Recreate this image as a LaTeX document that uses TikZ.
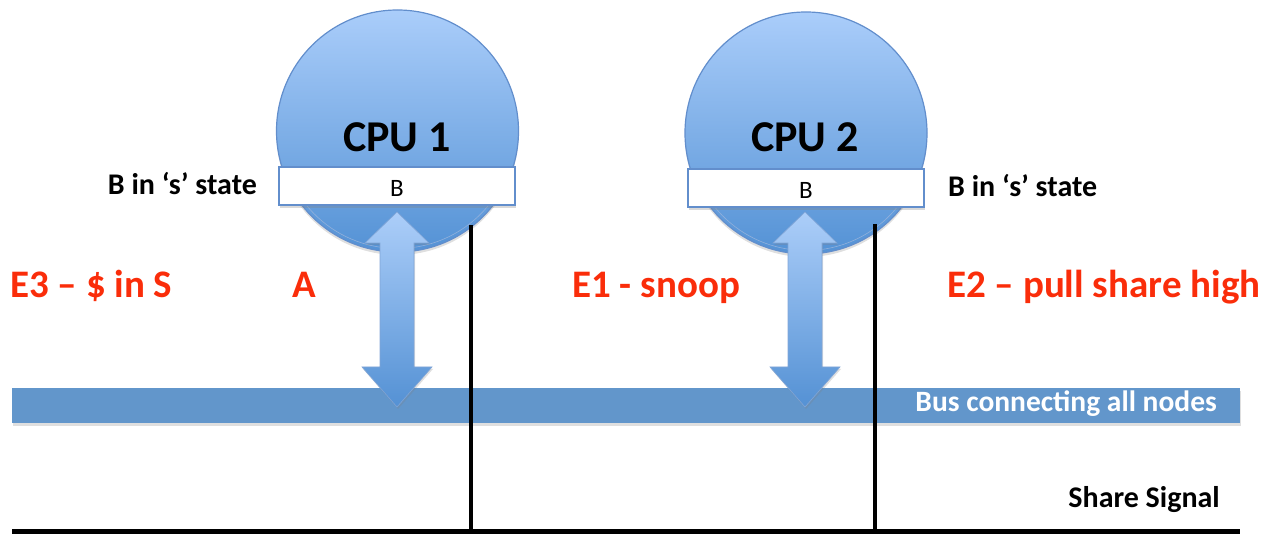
\documentclass[tikz,border=0pt]{standalone}
\usepackage{fontspec}
\setmainfont{Carlito}
\usetikzlibrary{shadows}
\definecolor{cpuTop}{RGB}{170,205,250}
\definecolor{cpuBot}{RGB}{84,146,213}
\definecolor{cpuEdge}{RGB}{98,142,204}
\definecolor{busFill}{RGB}{98,150,203}
\definecolor{arrTop}{RGB}{172,206,249}
\definecolor{arrBot}{RGB}{84,145,212}
\definecolor{redtxt}{RGB}{250,45,10}
\tikzset{
  cpu/.style={circle, minimum size=242pt, inner sep=0pt, top color=cpuTop, bottom color=cpuBot,
    draw=cpuEdge, line width=1.2pt, drop shadow={shadow xshift=0pt, shadow yshift=-3pt, opacity=0.25}},
  cpurim/.style={draw=cpuEdge!70, line width=0.6pt},
  cpulabel/.style={font=\fontsize{44}{46}\selectfont\bfseries, inner sep=0pt, anchor=base},
  cache/.style={rectangle, minimum width=236pt, minimum height=38pt, inner sep=0pt, fill=white,
    draw=cpuEdge, line width=1.5pt, drop shadow={shadow xshift=1pt, shadow yshift=-3pt, opacity=0.3}},
  cachetxt/.style={font=\fontsize{25}{27}\selectfont, inner sep=0pt, anchor=base},
  state/.style={font=\fontsize{30}{32}\selectfont\bfseries, inner sep=0pt},
  event/.style={font=\fontsize{39}{41}\selectfont\bfseries, text=redtxt, inner sep=0pt, anchor=base west},
  bus/.style={rectangle, minimum width=1228pt, minimum height=35pt, inner sep=0pt, fill=busFill,
    drop shadow={shadow xshift=1pt, shadow yshift=-3pt, opacity=0.25}},
  bustxt/.style={font=\fontsize{29.5}{31}\selectfont\bfseries, text=white, inner sep=0pt, anchor=base east},
  dblarrow/.style={top color=arrTop, bottom color=arrBot, draw=cpuEdge!80, line width=0.6pt,
    drop shadow={shadow xshift=1pt, shadow yshift=-2pt, opacity=0.25}},
  sigline/.style={black, line width=3.5pt},
  sharebus/.style={black, line width=5pt},
}
\begin{document}
\begin{tikzpicture}[x=1pt,y=-1pt]
\useasboundingbox (0,0) rectangle (1272,534);

% bus
\node[bus] (bus) at (626,405.5) {};
\node[bustxt] (bustext) at (1217,412) {Bus connecting all nodes};

% CPUs
\node[cpu] (cpu1) at (397.5,131) {};
\node[cpu] (cpu2) at (806,133) {};
\draw[cpurim] (cpu1.center) ++(150:117.5) arc[start angle=150, end angle=30, radius=117.5];
\draw[cpurim] (cpu2.center) ++(150:117.5) arc[start angle=150, end angle=30, radius=117.5];
\node[cpulabel] (cpu1t) at (397,152) {CPU 1};
\node[cpulabel] (cpu2t) at (805,152) {CPU 2};
\node[cache] (cache1) at (397,186) {};
\node[cache] (cache2) at (806,188) {};
\node[cachetxt] (b1) at (cache1.center |- 0,197) {B};
\node[cachetxt] (b2) at (cache2.center |- 0,199) {B};

% arrows
\foreach \x in {397,805}{
  \path[dblarrow] (\x,212) -- (\x+32,243) -- (\x+17,243) -- (\x+17,367) -- (\x+35,367)
    -- (\x,407) -- (\x-35,367) -- (\x-17,367) -- (\x-17,243) -- (\x-32,243) -- cycle;
}

% share signal
\coordinate (sL) at (12,531);
\coordinate (sR) at (1240,531);
\coordinate (t1) at (471,225);
\coordinate (t2) at (875,224);
\draw[sharebus] (sL) -- (sR);
\draw[sigline] (t1) -- (t1 |- sL);
\draw[sigline] (t2) -- (t2 |- sL);
\node[state, anchor=base east] (share) at (1220,507) {Share Signal};

% state labels
\node[state, anchor=base east] (s1) at (257,195) {B in ‘s’ state};
\node[state, anchor=base west] (s2) at (948,197) {B in ‘s’ state};

% events
\node[event] (e3) at (10,298) {E3 – \$ in S};
\node[event] (a) at (292,298) {A};
\node[event] (e1) at (572,298) {E1 - snoop};
\node[event] (e2) at (947,298) {E2 – pull share high};
\end{tikzpicture}
\end{document}
